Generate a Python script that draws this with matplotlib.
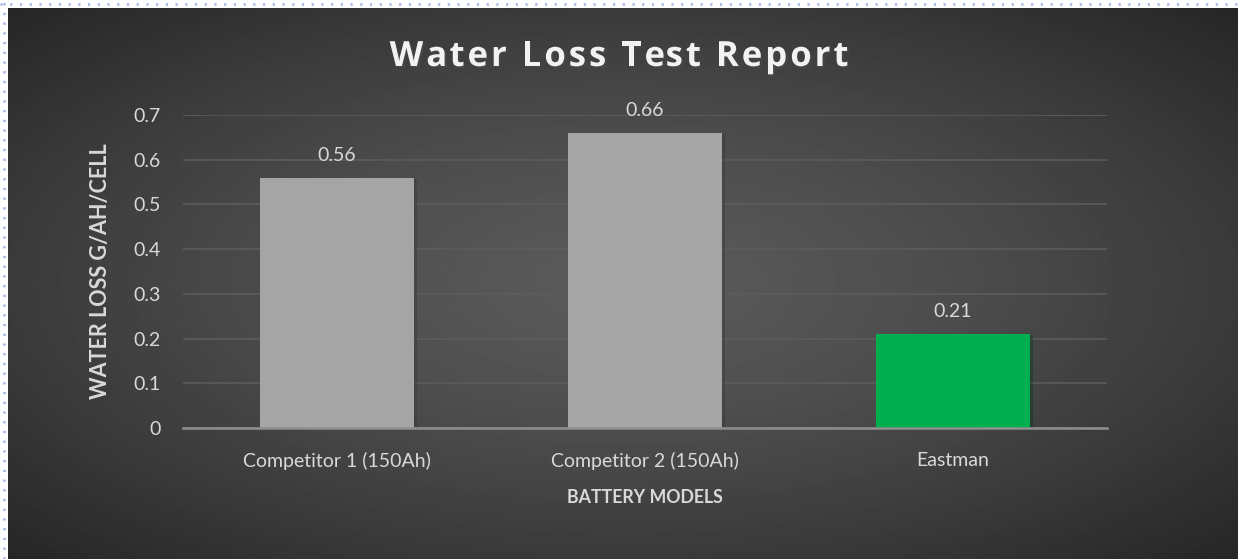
import matplotlib.pyplot as plt
import matplotlib.patheffects as pe
import numpy as np

categories = ["Competitor 1 (150Ah)", "Competitor 2 (150Ah)", "Eastman"]
values = [0.56, 0.66, 0.21]
bar_colors = ["#A5A5A5", "#A5A5A5", "#00B050"]
y_ticks = [0, 0.1, 0.2, 0.3, 0.4, 0.5, 0.6, 0.7]
y_tick_labels = ["0", "0.1", "0.2", "0.3", "0.4", "0.5", "0.6", "0.7"]
title = "Water Loss Test Report"

W, H = 1238, 559
fig = plt.figure(figsize=(W / 100, H / 100), dpi=100)
fig.patch.set_facecolor("white")

# dark panel with radial gradient
bg = fig.add_axes([8 / W, 0, 1 - 8 / W, 1 - 8 / H])
bg.set_axis_off()
yy, xx = np.mgrid[0:1:300j, 0:1:600j]
r = np.sqrt(((xx - 0.5) / 0.5) ** 2 + ((yy - 0.5) / 0.5) ** 2) / np.sqrt(2)
r = np.clip(r, 0, 1)
center, edge = 0x5a / 255, 0x26 / 255
grad = center + (edge - center) * r ** 1.4
bg.imshow(grad, cmap="gray", vmin=0, vmax=1, aspect="auto", extent=[0, 1, 0, 1])

# dotted border on top and left
fig.add_artist(plt.Line2D([0, 1], [1 - 4 / H, 1 - 4 / H], color="#a9bbe6",
                          lw=2, ls=(0, (0.8, 2.7)), transform=fig.transFigure))
fig.add_artist(plt.Line2D([4 / W, 4 / W], [0, 1], color="#a9bbe6",
                          lw=2, ls=(0, (0.8, 2.7)), transform=fig.transFigure))

ax = fig.add_axes([183 / W, 1 - 428 / H, 924 / W, 313 / H])
ax.patch.set_alpha(0)
x = np.arange(len(categories))
bars = ax.bar(x, values, width=0.5, color=bar_colors, zorder=3)
for b in bars:
    b.set_path_effects([pe.SimplePatchShadow(offset=(2, -1), alpha=0.35), pe.Normal()])

ax.set_xlim(-0.5, 2.5)
ax.set_ylim(0, 0.7)
ax.set_yticks(y_ticks)
ax.set_yticklabels(y_tick_labels)
ax.set_xticks(x)
ax.set_xticklabels(categories)
ax.grid(axis="y", color="#5c5c5c", lw=1.2, zorder=0)
for s in ["top", "right", "left"]:
    ax.spines[s].set_visible(False)
ax.spines["bottom"].set_color("#8f8f8f")
ax.spines["bottom"].set_linewidth(1.8)
ax.spines["bottom"].set_zorder(4)
ax.tick_params(axis="both", length=0, colors="#d9d9d9", labelsize=14)
ax.tick_params(axis="y", pad=16)
ax.tick_params(axis="x", pad=17)
for lab in ax.get_xticklabels() + ax.get_yticklabels():
    lab.set_family("Lato")

for xi, v in zip(x, values):
    ax.annotate(f"{v:.2f}", (xi, v), xytext=(0, 10), textcoords="offset points",
                ha="center", va="bottom", color="#d9d9d9", fontsize=14, family="Lato")

ax.set_ylabel("WATER LOSS G/AH/CELL", color="#d9d9d9", fontsize=15.5,
              fontweight="bold", family="Lato", labelpad=16)
ax.set_xlabel("BATTERY MODELS", color="#d9d9d9", fontsize=12.8,
              fontweight="bold", family="Lato", labelpad=14)

# letter-spaced title, drawn one character at a time
title_kw = dict(color="#f2f2f2", fontsize=25, fontweight="bold", family="Open Sans",
                va="center", ha="left")
renderer = fig.canvas.get_renderer()


def text_width(s):
    t = fig.text(0, 0, s + "|", **title_kw)
    w = t.get_window_extent(renderer).width
    t.remove()
    return w


bar_w = text_width("")
spacing = 3.0
advances = [text_width(title[:i]) - bar_w for i in range(len(title) + 1)]
total = advances[-1] + spacing * (len(title) - 1)
x0 = W / 2 - total / 2
for i, ch in enumerate(title):
    if ch == " ":
        continue
    px = x0 + advances[i] + spacing * i
    fig.text(px / W, 1 - 57 / H, ch, **title_kw,
             path_effects=[pe.withSimplePatchShadow(offset=(1.5, -1.5), alpha=0.6)])

fig.savefig("out.png", dpi=100)
